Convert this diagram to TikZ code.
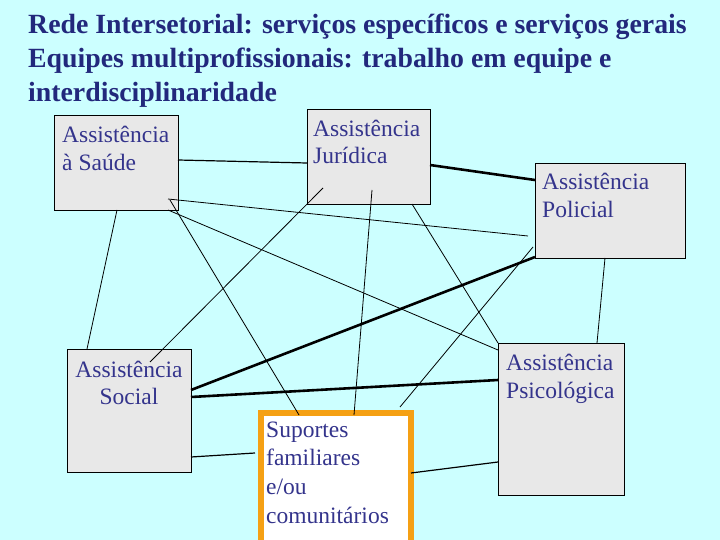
\documentclass[tikz,border=0pt]{standalone}
\usepackage{fontspec}
\setmainfont{Liberation Serif}
\usetikzlibrary{calc}
\definecolor{bgc}{RGB}{204,255,255}
\definecolor{titlec}{RGB}{34,40,124}
\definecolor{boxtxt}{RGB}{52,52,140}
\definecolor{boxfill}{RGB}{232,232,232}
\definecolor{orangec}{RGB}{245,160,20}
\tikzset{
  box/.style={draw=black, line width=0.9pt, fill=boxfill, rectangle, inner sep=0pt, anchor=north west},
  supbox/.style={draw=orangec, line width=6pt, fill=white, rectangle, inner sep=0pt, anchor=north west},
  ttl/.style={anchor=base west, inner sep=0pt, text=titlec, font=\fontsize{27.8}{32}\selectfont\bfseries},
  btxt/.style={anchor=base west, inner sep=0pt, text=boxtxt, font=\fontsize{23.5}{28}\selectfont},
  thinl/.style={draw=black, line width=0.8pt},
  medl/.style={draw=black, line width=1.2pt},
  thickl/.style={draw=black, line width=2.6pt},
}
\begin{document}
\begin{tikzpicture}[x=1pt,y=-1pt]
\useasboundingbox (0,0) rectangle (720,540);
\clip (0,0) rectangle (720,540);
\fill[bgc] (0,0) rectangle (720,540);
% title
\node[ttl] (title1) at (28,34) {Rede Intersetorial: serviços específicos e serviços gerais};
\node[ttl] (title2) at (28,68) {Equipes multiprofissionais: trabalho em equipe e};
\node[ttl] (title3) at (28,102) {interdisciplinaridade};
% boxes
\node[box, minimum width=124pt, minimum height=95pt] (saude) at (54,115) {};
\node[box, minimum width=123pt, minimum height=95pt] (jur) at (307,109) {};
\node[box, minimum width=150pt, minimum height=95pt] (pol) at (535,163) {};
\node[box, minimum width=124pt, minimum height=123pt] (soc) at (67,349) {};
\node[box, minimum width=126pt, minimum height=152pt] (psi) at (498,343) {};
\node[supbox, minimum width=150pt, minimum height=150pt] (sup) at (258,410) {};
% texts
\node[btxt] (saudeA) at (62,143) {Assistência};
\node[btxt] (saudeB) at (62,171) {à Saúde};
\node[btxt] (jurA) at (313,137) {Assistência};
\node[btxt] (jurB) at (313,164) {Jurídica};
\node[btxt] (polA) at (542,190) {Assistência};
\node[btxt] (polB) at (542,218) {Policial};
\node[btxt, anchor=base] (socA) at (129,377) {Assistência};
\node[btxt, anchor=base] (socB) at (129,404) {Social};
\node[btxt] (psiA) at (506,370) {Assistência};
\node[btxt] (psiB) at (506,398) {Psicológica};
\node[btxt] (supA) at (266,437) {Suportes};
\node[btxt] (supB) at (266,465) {familiares};
\node[btxt] (supC) at (266,494) {e/ou};
\node[btxt] (supD) at (266,523) {comunitários};
% connectors
\draw[medl] ($(saude.north west)+(124,45)$) -- ($(jur.north west)+(0,54)$);
\draw[thickl] ($(jur.north west)+(123,56)$) -- ($(pol.north west)+(0,17)$);
\draw[thinl] ($(saude.north west)+(114,84)$) -- ($(pol.north west)+(-7,73)$);
\draw[thinl] ($(saude.north west)+(114,95)$) -- ($(psi.north west)+(0,7)$);
\draw[thinl] ($(saude.north west)+(116,85)$) -- ($(sup.north west)+(41,5)$);
\draw[thinl] ($(saude.north west)+(63,95)$) -- ($(soc.north west)+(20,0)$);
\draw[thinl] ($(soc.north west)+(83,13)$) -- ($(jur.north west)+(16,79)$);
\draw[thinl] ($(jur.north west)+(65,81)$) -- ($(sup.north west)+(96,5)$);
\draw[thinl] ($(jur.north west)+(105,95)$) -- ($(psi.north west)+(0,0)$);
\draw[thinl] ($(pol.north west)+(-2,84)$) -- ($(sup.north west)+(142,-3)$);
\draw[thickl] ($(soc.north west)+(124,41)$) -- ($(pol.north west)+(0,94)$);
\draw[thickl] ($(soc.north west)+(124,48)$) -- ($(psi.north west)+(0,37)$);
\draw[medl] ($(soc.north west)+(124,108)$) -- ($(sup.north west)+(-3,43)$);
\draw[medl] ($(sup.north west)+(153,63)$) -- ($(psi.north west)+(0,119)$);
\draw[thinl] ($(pol.north west)+(70,95)$) -- ($(psi.north west)+(99,0)$);
\end{tikzpicture}
\end{document}
